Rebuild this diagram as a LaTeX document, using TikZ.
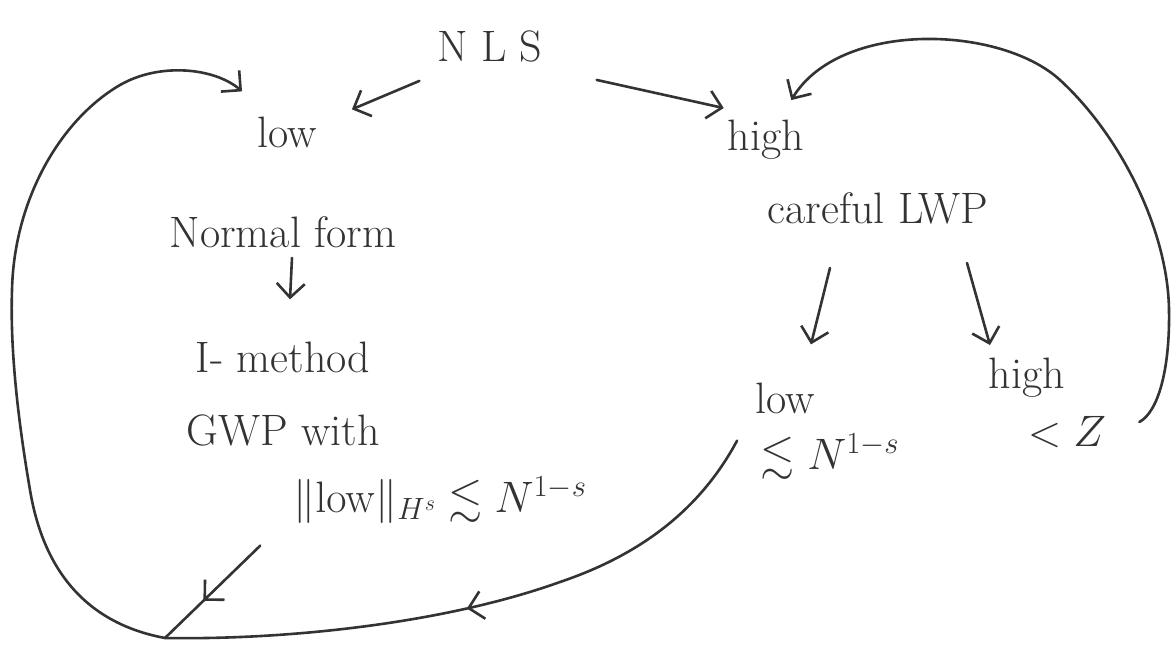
\RequirePackage{fix-cm}
\documentclass[tikz,border=0pt]{standalone}
\usepackage{amsmath,amssymb}
\usetikzlibrary{arrows.meta,decorations.markings}
\definecolor{ink}{HTML}{333333}
\begin{document}
\begin{tikzpicture}[x=1pt,y=-1pt,
  lbl/.style={inner sep=0pt, text=ink, font=\fontsize{44}{52}\selectfont},
  conn/.style={draw=ink, line width=2.6pt, line cap=round, line join=round},
  arr/.style={conn, -{Straight Barb[length=14pt,width=28pt]}},
  midarr/.style={conn, postaction={decorate}, decoration={markings,
     mark=at position #1 with {\arrow[line width=2.6pt]{Straight Barb[length=14pt,width=28pt]}}}}
]
\useasboundingbox[fill=white] (0,0) rectangle (1176,656);

% nodes
\node[lbl] (nls)  at (490,46)  {N L S};
\node[lbl] (low)  at (287,132) {low};
\node[lbl] (high) at (766,140) {high};
\node[lbl] (nf)   at (283,232) {Normal form};
\node[lbl] (im)   at (283,357) {I- method};
\node[lbl] (gwp)  at (283,430) {GWP with};
\node[lbl] (est)  at (440,500) {$\|\mathrm{low}\|_{H^s}\lesssim N^{1-s}$};
\node[lbl] (lwp)  at (878,208) {careful LWP};
\node[lbl] (low2) at (785,398) {low};
\node[lbl] (lown) at (830,457) {$\lesssim N^{1-s}$};
\node[lbl] (high2) at (1027,378) {high};
\node[lbl] (z)    at (1067,432) {$<Z$};
\coordinate (corner) at (165,638);

% straight arrows
\draw[arr] ([shift={(-18,19)}]nls.south west) -- ([shift={(35,-7)}]low.north east);
\draw[arr] ([shift={(54,18)}]nls.south east) -- ([shift={(-4,-12)}]high.north west);
\draw[arr] ([shift={(9,10)}]nf.south) -- ([shift={(7,-42)}]im.north);
\draw[arr] ([shift={(-48,44)}]lwp.south) -- ([shift={(26,-38)}]low2.north);
\draw[arr] ([shift={(89,39)}]lwp.south) -- ([shift={(-37,-13)}]high2.north);

% estimate to corner
\draw[midarr=0.6] ([shift={(-33,22)}]est.south west) -- (corner);

% low2 curve to corner
\draw[midarr=0.52] ([shift={(-18,27)}]low2.south west)
   .. controls (700,510) and (640,555) .. (560,582)
   .. controls (440,625) and (280,640) .. (corner);

% big left loop back to low
\draw[arr] (corner) .. controls (95,625) and (45,580) .. (30,490)
   .. controls (18,420) and (10,350) .. (12,290)
   .. controls (14,200) and (60,120) .. (120,85)
   .. controls (160,62) and (215,68) .. ([shift={(-45,-25)}]low.north);

% right loop back to high
\draw[arr] ([shift={(33,-10)}]z.east) .. controls (1158,412) and (1170,370) .. (1169,310)
   .. controls (1168,230) and (1120,135) .. (1060,80)
   .. controls (1000,25) and (840,20) .. ([shift={(-13,-20)}]high.north east);
\end{tikzpicture}
\end{document}
